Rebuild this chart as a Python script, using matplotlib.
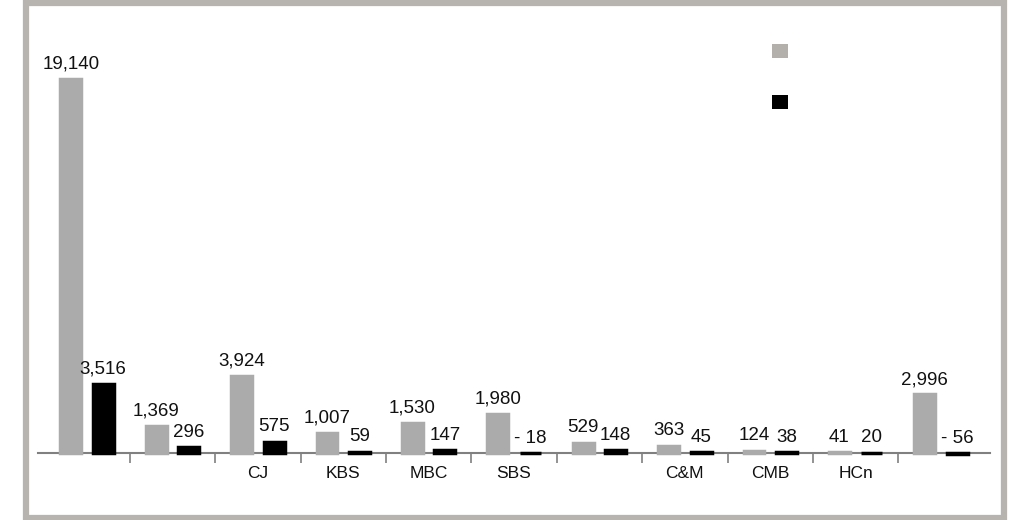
import numpy as np
import matplotlib
matplotlib.use("Agg")
import matplotlib.pyplot as plt
from matplotlib.patches import Patch, Rectangle
from matplotlib import font_manager

# categorias y valores
categorias = ['', '', 'CJ', 'KBS', 'MBC', 'SBS', '', 'C&M', 'CMB', 'HCn', '']
serie_gris = [19140, 1369, 3924, 1007, 1530, 1980, 529, 363, 124, 41, 2996]
serie_negra = [3516, 296, 575, 59, 147, -18, 148, 45, 38, 20, -56]
nombres_series = ['', '']

plt.rcParams['font.family'] = ['Liberation Sans', 'DejaVu Sans']

# fuente estrecha para las cifras, si existe
nombres = {f.name for f in font_manager.fontManager.ttflist}
if 'Liberation Sans Narrow' in nombres:
    fam_num, tam_num = ['Liberation Sans Narrow', 'DejaVu Sans'], 14.5
else:
    fam_num, tam_num = ['Liberation Sans', 'DejaVu Sans'], 13.5

W, H = 1015, 520
fig = plt.figure(figsize=(W / 100, H / 100), dpi=100)

# marco gris alrededor de la figura
fig.patches.append(Rectangle((26 / W, 2.5 / H), 978 / W, 514.5 / H,
                             transform=fig.transFigure, fill=False,
                             edgecolor='#b7b3af', linewidth=4.5))

ax = fig.add_axes([38 / W, 20 / H, 952 / W, 490 / H])

x = np.arange(len(categorias))
ancho = 0.245
gris = '#ababab'
negro = '#000000'

ax.bar(x - 0.19, serie_gris, width=ancho, color=gris, edgecolor=gris, linewidth=2.5, zorder=3)
ax.bar(x + 0.19, serie_negra, width=ancho, color=negro, edgecolor=negro, linewidth=2.5, zorder=3)

def etiqueta(v):
    if v < 0:
        return f"- {abs(v):,}"
    return f"{v:,}"

for xi, v in zip(x - 0.19, serie_gris):
    ax.annotate(etiqueta(v), (xi, max(v, 0)), xytext=(0, 7.5), textcoords='offset points',
                ha='center', va='baseline', fontsize=tam_num, family=fam_num, color='#111111')
for xi, v in zip(x + 0.19, serie_negra):
    ax.annotate(etiqueta(v), (xi, max(v, 0)), xytext=(0, 7.5), textcoords='offset points',
                ha='center', va='baseline', fontsize=tam_num, family=fam_num, color='#111111')

ax.set_xlim(-0.574, -0.574 + 952 / 85.4)
ax.set_ylim(-2404, 22660)

for s in ['top', 'right', 'left']:
    ax.spines[s].set_visible(False)
ax.spines['bottom'].set_position(('data', 0))
ax.spines['bottom'].set_color('#808080')
ax.spines['bottom'].set_linewidth(1.5)

ax.set_yticks([])
ax.set_xticks(x)
ax.set_xticklabels(categorias, fontsize=12.5, color='#111111')
ax.set_xticks(x[:-1] + 0.5, minor=True)
ax.tick_params(axis='x', which='major', length=0, pad=9)
ax.tick_params(axis='x', which='minor', length=7.2, width=1.2, color='#808080', direction='out')

handles = [Patch(facecolor='#b3afab', edgecolor='none'), Patch(facecolor=negro, edgecolor='none')]
fig.legend(handles, nombres_series, loc='upper left', bbox_to_anchor=(772 / W, 1 - 44 / H),
           bbox_transform=fig.transFigure, frameon=False, fontsize=11.5,
           handlelength=1, handleheight=1, borderpad=0, borderaxespad=0,
           labelspacing=2.2, handletextpad=0.5)

fig.savefig('out.png', dpi=100)
